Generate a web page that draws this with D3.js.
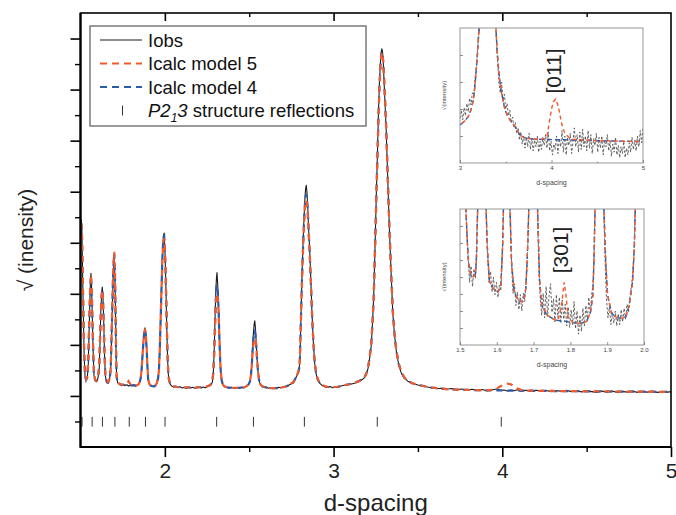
<!DOCTYPE html>
<html>
<head>
<meta charset="utf-8">
<script src="https://cdn.jsdelivr.net/npm/d3@7"></script>
<style>
  html, body { margin: 0; padding: 0; background: #fff; }
  svg { display: block; font-family: "Liberation Sans", Arial, sans-serif; }
</style>
</head>
<body>
<svg id="chart" width="676" height="515"></svg>
<script>
// ---------- main diffraction profile ----------
const dSpacing = [
  1.500,1.504,1.508,1.512,1.517,1.522,1.527,1.533,1.540,
  1.546,1.550,1.554,1.558,1.562,1.566,1.570,1.575,1.580,1.587,1.595,1.603,
  1.611,1.616,1.620,1.625,1.629,1.633,1.637,1.642,1.647,1.655,1.663,1.671,
  1.679,1.684,1.688,1.694,1.700,1.704,1.708,1.711,1.714,1.720,1.728,
  1.736,1.745,1.755,1.765,1.775,1.785,1.795,1.805,1.815,1.825,1.835,1.845,1.852,1.858,
  1.862,1.867,1.872,1.877,1.882,1.887,1.892,1.897,1.901,1.908,1.915,1.925,1.935,1.945,1.953,1.960,
  1.965,1.970,1.975,1.980,1.984,1.988,1.992,1.996,2.000,2.004,2.008,2.012,2.016,2.020,2.024,2.032,2.040,
  2.052,2.065,2.078,2.090,2.103,2.115,2.128,2.140,2.153,2.165,2.178,2.190,2.203,2.215,2.228,2.240,2.252,2.264,2.274,
  2.282,2.288,2.293,2.298,2.302,2.306,2.309,2.313,2.318,2.322,2.326,2.331,2.337,2.345,2.355,
  2.368,2.380,2.393,2.405,2.418,2.430,2.443,2.455,2.468,2.478,2.488,2.497,
  2.505,2.511,2.516,2.520,2.524,2.529,2.533,2.537,2.541,2.546,2.552,2.558,2.566,2.575,
  2.588,2.600,2.613,2.625,2.638,2.650,2.663,2.675,2.688,2.700,2.713,2.725,2.738,2.750,
  2.759,2.770,2.779,2.788,2.795,2.800,2.805,2.810,2.815,2.820,2.825,2.830,2.834,2.838,2.842,2.847,2.853,2.858,2.865,2.872,2.880,2.888,2.897,2.907,2.920,2.935,2.950,
  2.965,2.980,2.995,3.010,3.025,3.040,3.055,
  3.070,3.100,3.130,3.150,3.170,3.185,3.197,3.205,3.213,3.223,3.231,3.238,3.246,3.253,3.260,3.266,3.272,3.278,3.283,3.286,3.290,3.295,3.300,3.306,3.312,3.320,3.331,3.340,3.351,3.361,3.371,3.385,3.401,3.420,3.440,3.467,3.500,3.548,
  3.580,3.610,3.640,3.670,3.700,3.730,3.760,3.790,3.820,3.850,3.880,3.910,3.940,
  3.970,3.990,4.010,4.030,4.050,4.070,4.090,4.110,
  4.140,4.170,4.200,4.230,4.260,4.290,4.320,4.350,4.380,4.410,4.440,4.470,4.500,4.530,4.560,4.590,4.620,4.650,4.680,4.710,4.740,4.770,4.800,4.830,4.860,4.890,4.920,4.950,4.980,
  5.000
];

const iobs = [
  8.30,8.90,8.60,7.00,5.10,3.50,2.75,2.60,2.70,
  3.20,4.30,5.30,6.30,6.80,6.20,5.10,3.70,2.80,2.62,2.56,2.68,
  3.05,4.20,5.20,6.00,6.27,5.90,5.10,3.70,2.80,2.52,2.50,2.62,
  3.00,4.20,5.20,6.80,7.55,6.70,5.10,3.60,2.75,2.52,2.46,
  2.44,2.40,2.46,2.41,2.44,2.39,2.43,2.40,2.44,2.38,2.42,2.46,2.55,2.72,
  3.00,3.50,4.00,4.45,4.67,4.40,3.85,3.10,2.62,2.45,2.40,2.37,2.36,2.41,2.50,2.70,
  3.00,3.80,5.00,6.20,7.20,7.90,8.30,8.38,7.80,6.90,5.70,4.50,3.50,2.90,2.62,2.45,2.39,
  2.35,2.38,2.33,2.36,2.31,2.34,2.30,2.35,2.31,2.34,2.30,2.33,2.36,2.31,2.35,2.32,2.37,2.40,2.45,
  2.55,3.00,3.90,5.20,6.10,6.65,6.83,6.40,5.60,4.60,3.70,2.95,2.58,2.42,2.36,
  2.33,2.30,2.34,2.31,2.29,2.33,2.30,2.34,2.31,2.36,2.40,2.46,
  2.58,2.85,3.30,3.90,4.40,4.80,4.94,4.65,4.15,3.50,2.95,2.62,2.44,2.37,
  2.33,2.35,2.30,2.33,2.29,2.32,2.30,2.34,2.31,2.36,2.38,2.37,2.44,2.48,
  2.49,2.62,2.75,2.85,3.00,3.35,4.60,6.00,7.20,8.20,9.00,9.70,10.10,10.25,10.00,9.40,8.40,7.80,6.60,5.25,4.10,3.30,2.85,2.62,2.48,2.40,2.36,
  2.33,2.37,2.32,2.36,2.34,2.38,2.41,
  2.42,2.46,2.51,2.57,2.64,2.73,2.90,3.10,3.45,3.95,4.90,5.90,7.90,9.80,11.50,13.10,14.30,15.10,15.50,15.60,15.50,15.00,14.20,13.30,12.40,10.70,8.50,7.00,5.25,4.40,3.80,3.25,2.90,2.70,2.58,2.50,2.43,2.36,
  2.32,2.28,2.30,2.26,2.29,2.24,2.27,2.22,2.26,2.21,2.25,2.20,2.24,
  2.27,2.21,2.23,2.19,2.23,2.20,2.24,2.19,
  2.22,2.18,2.22,2.19,2.21,2.17,2.21,2.18,2.22,2.17,2.20,2.16,2.20,2.17,2.14,2.19,2.15,2.19,2.14,2.18,2.15,2.19,2.14,2.17,2.15,2.18,2.14,2.17,2.15,
  2.17
];

const icalcModel5 = [
  8.50,8.75,8.55,7.20,5.35,3.70,2.85,2.66,2.76,
  3.40,4.50,5.45,6.35,6.75,6.30,5.25,3.85,2.88,2.63,2.60,2.70,
  3.20,4.35,5.20,5.90,6.15,5.85,5.05,3.80,2.88,2.60,2.55,2.64,
  3.10,4.40,5.45,7.05,7.65,6.90,5.30,3.75,2.80,2.56,2.49,
  2.46,2.44,2.43,2.43,2.48,2.58,2.47,2.41,2.41,2.41,2.42,2.46,2.58,2.76,
  3.05,3.55,4.05,4.45,4.62,4.42,3.90,3.15,2.66,2.48,2.42,2.40,2.39,2.42,2.52,2.72,
  3.05,3.85,5.00,6.15,7.05,7.70,8.10,8.17,7.80,7.00,5.85,4.65,3.60,2.95,2.66,2.47,2.41,
  2.38,2.36,2.35,2.34,2.34,2.33,2.33,2.33,2.33,2.33,2.33,2.33,2.34,2.34,2.35,2.36,2.38,2.41,2.46,
  2.58,3.00,3.75,4.80,5.55,5.95,6.00,5.85,5.35,4.55,3.75,3.00,2.62,2.44,2.37,
  2.34,2.33,2.32,2.32,2.32,2.32,2.32,2.33,2.34,2.36,2.40,2.46,
  2.60,2.85,3.25,3.65,3.95,4.20,4.26,4.20,4.00,3.55,3.00,2.66,2.47,2.39,
  2.35,2.33,2.32,2.31,2.31,2.31,2.31,2.32,2.33,2.34,2.36,2.39,2.43,2.50,
  2.52,2.64,2.78,2.90,3.05,3.40,4.60,5.85,6.95,7.90,8.70,9.35,9.60,9.66,9.55,9.15,8.30,7.65,6.55,5.30,4.15,3.35,2.88,2.64,2.50,2.42,2.38,
  2.36,2.35,2.35,2.35,2.36,2.38,2.40,
  2.43,2.47,2.53,2.58,2.66,2.76,2.92,3.12,3.48,4.00,4.90,5.85,7.80,9.65,11.30,12.85,14.05,14.90,15.35,15.45,15.40,15.05,14.40,13.50,12.55,10.85,8.60,7.05,5.35,4.45,3.85,3.30,2.95,2.72,2.60,2.50,2.43,2.37,
  2.33,2.31,2.29,2.27,2.26,2.25,2.24,2.24,2.23,2.23,2.22,2.22,2.24,
  2.30,2.38,2.45,2.48,2.46,2.38,2.29,2.24,
  2.21,2.21,2.20,2.20,2.20,2.20,2.19,2.19,2.19,2.19,2.19,2.18,2.18,2.18,2.18,2.18,2.18,2.17,2.17,2.17,2.17,2.17,2.17,2.17,2.17,2.17,2.16,2.16,2.16,
  2.16
];

const icalcModel4 = [
  8.40,8.80,8.55,7.10,5.20,3.60,2.80,2.63,2.72,
  3.30,4.40,5.35,6.25,6.70,6.20,5.15,3.75,2.82,2.61,2.58,2.66,
  3.10,4.25,5.10,5.90,6.18,5.82,5.00,3.72,2.82,2.56,2.52,2.60,
  3.02,4.30,5.30,6.90,7.55,6.80,5.20,3.65,2.74,2.53,2.47,
  2.45,2.44,2.43,2.42,2.42,2.42,2.41,2.41,2.41,2.41,2.42,2.46,2.56,2.74,
  3.02,3.52,4.02,4.45,4.62,4.40,3.86,3.12,2.64,2.46,2.41,2.39,2.38,2.41,2.50,2.70,
  3.02,3.82,5.00,6.15,7.10,7.80,8.20,8.25,7.80,6.95,5.80,4.60,3.55,2.92,2.64,2.46,2.40,
  2.37,2.36,2.35,2.34,2.34,2.33,2.33,2.33,2.33,2.33,2.33,2.33,2.34,2.34,2.35,2.36,2.38,2.41,2.46,
  2.56,3.00,3.85,5.00,5.80,6.25,6.35,6.10,5.45,4.55,3.70,2.98,2.60,2.43,2.37,
  2.34,2.33,2.32,2.32,2.32,2.32,2.32,2.33,2.34,2.36,2.40,2.46,
  2.58,2.85,3.28,3.75,4.15,4.45,4.52,4.40,4.05,3.50,2.97,2.64,2.45,2.38,
  2.35,2.33,2.32,2.31,2.31,2.31,2.31,2.32,2.33,2.34,2.36,2.39,2.43,2.50,
  2.51,2.63,2.77,2.88,3.03,3.38,4.60,5.92,7.05,8.00,8.85,9.50,9.80,9.90,9.75,9.30,8.35,7.70,6.55,5.25,4.12,3.32,2.86,2.63,2.49,2.41,2.37,
  2.35,2.35,2.35,2.35,2.36,2.38,2.40,
  2.43,2.47,2.53,2.58,2.66,2.76,2.92,3.12,3.47,3.98,4.90,5.88,7.85,9.70,11.40,12.95,14.15,14.95,15.40,15.48,15.42,15.00,14.30,13.40,12.45,10.75,8.55,7.00,5.30,4.42,3.82,3.28,2.93,2.71,2.59,2.50,2.43,2.37,
  2.33,2.31,2.29,2.27,2.26,2.25,2.24,2.24,2.23,2.23,2.22,2.22,2.22,
  2.22,2.22,2.22,2.21,2.21,2.21,2.21,2.21,
  2.21,2.21,2.20,2.20,2.20,2.20,2.19,2.19,2.19,2.19,2.19,2.18,2.18,2.18,2.18,2.18,2.18,2.17,2.17,2.17,2.17,2.17,2.17,2.17,2.17,2.17,2.16,2.16,2.16,
  2.16
];

// P2_13 reflection positions (d-spacing)
const reflectionD = [1.509,1.569,1.630,1.704,1.789,1.885,2.001,2.307,2.525,2.827,3.259,3.994];

const xTickLabels = [2, 3, 4, 5];
const xMinorTicks = [2.5, 3.5, 4.5];
const yMajorTicks = [2, 4, 6, 8, 10, 12, 14, 16];
const yMinorTicks = [1, 3, 5, 7, 9, 11, 13, 15];

// ---------- inset: d = 3 .. 5, around [011] ----------
const inset011D = [3.000,3.050,3.090,3.120,3.146,3.162,3.175,3.190,3.200,3.211,3.225,3.380,3.393,3.405,3.419,3.437,3.455,3.474,3.492,3.520,3.546,3.575,3.601,3.630,3.656,3.690,3.729,3.800,3.874,3.920,3.950,3.980,4.000,4.020,4.046,4.075,4.110,4.140,4.166,4.200,4.240,4.400,4.600,4.800,5.000];
const inset011Model5 = [2.81,3.10,3.43,3.95,4.67,5.60,6.64,8.00,9.10,10.00,11.50,11.50,10.00,8.40,7.14,6.00,5.16,4.50,3.93,3.50,3.19,2.95,2.69,2.35,2.07,1.92,1.83,1.78,1.75,1.80,1.95,3.19,4.00,4.54,4.74,4.17,2.94,2.30,2.07,1.85,1.75,1.68,1.64,1.61,1.58];
const inset011Model4 = [2.81,3.10,3.43,3.95,4.67,5.60,6.64,8.00,9.10,10.00,11.50,11.50,10.00,8.40,7.14,6.00,5.16,4.50,3.93,3.50,3.19,2.95,2.69,2.35,2.07,1.92,1.83,1.78,1.75,1.74,1.74,1.74,1.73,1.73,1.73,1.72,1.72,1.72,1.71,1.71,1.70,1.68,1.64,1.61,1.58];
const inset011ObsD = [
  3.000,3.015,3.030,3.045,3.060,3.075,3.090,3.105,3.120,3.135,3.150,3.165,3.180,3.195,3.210,3.225,
  3.380,3.395,3.410,3.425,3.440,3.455,3.470,3.485,3.500,3.515,3.530,3.545,3.560,3.575,3.590,3.605,3.620,3.635,3.650,3.665,
  3.680,3.695,3.710,3.725,3.740,3.755,3.770,3.785,3.800,3.815,3.830,3.845,3.860,3.875,3.890,3.905,3.920,3.935,3.950,3.965,
  3.980,3.995,4.010,4.025,4.040,4.055,4.070,4.085,4.100,4.115,4.130,4.145,4.160,4.175,4.190,4.205,4.220,4.235,4.250,4.265,
  4.280,4.295,4.310,4.325,4.340,4.355,4.370,4.385,4.400,4.415,4.430,4.445,4.460,4.475,4.490,4.505,4.520,4.535,4.550,4.565,
  4.580,4.595,4.610,4.625,4.640,4.655,4.670,4.685,4.700,4.715,4.730,4.745,4.760,4.775,4.790,4.805,4.820,4.835,4.850,4.865,
  4.880,4.895,4.910,4.925,4.940,4.955,4.970,4.985,5.000
];
const inset011Obs = [
  3.3,3.9,3.2,4.1,3.5,4.4,3.8,4.8,4.3,5.2,5.0,6.3,7.2,8.8,10.5,12.0,
  12.0,9.5,7.6,6.0,5.2,6.0,4.6,5.1,4.0,4.4,3.5,3.9,3.0,3.4,2.6,3.0,2.2,2.6,1.7,2.3,
  1.4,2.0,1.1,1.9,1.2,2.2,1.0,1.8,0.9,1.7,1.2,2.0,0.8,1.6,1.0,1.9,1.3,2.1,1.1,2.3,
  0.9,1.6,0.6,1.4,1.0,2.0,0.7,1.8,1.2,2.4,0.8,2.0,0.6,1.9,1.3,2.2,0.7,1.6,2.6,1.2,
  2.1,0.8,2.3,1.0,2.5,1.2,2.0,0.9,2.4,1.1,2.1,0.7,1.8,1.3,2.2,0.8,1.9,1.1,2.0,0.6,
  1.7,1.2,2.1,0.9,1.6,0.5,1.4,0.8,1.9,0.6,1.3,0.4,1.2,0.7,1.6,0.4,1.1,0.6,1.5,0.8,
  1.9,1.0,1.7,0.9,2.0,1.2,2.4,1.5,2.6
];

// ---------- inset: d = 1.5 .. 2.0, around [301] ----------
const inset301D = [
  1.500,1.514,1.516,1.520,1.523,1.529,1.536,1.541,1.543,1.545,1.548,1.550,
  1.569,1.571,1.574,1.580,1.590,1.597,1.604,1.611,1.616,1.618,1.620,
  1.634,1.636,1.640,1.647,1.659,1.672,1.679,1.684,1.687,1.689,
  1.709,1.711,1.716,1.722,1.736,1.758,1.767,1.776,1.783,1.788,1.794,1.808,1.826,1.844,1.855,1.861,1.864,1.867,1.869,
  1.889,1.891,1.896,1.901,1.912,1.926,1.939,1.951,1.960,1.969,1.974,1.976,1.978,2.000
];
const inset301Model5 = [
  11.5,11.5,10.0,7.60,6.13,5.15,5.02,5.15,5.39,6.62,10.0,11.5,
  11.5,10.0,7.35,4.66,4.17,4.00,3.92,4.41,7.35,10.0,11.5,
  11.5,10.0,6.13,3.92,3.24,3.19,4.17,7.35,10.0,11.5,
  11.5,10.0,4.90,2.94,2.21,1.84,1.84,2.94,4.61,3.68,1.96,1.64,1.59,1.72,2.45,3.68,6.13,10.0,11.5,
  11.5,10.0,6.13,3.68,2.33,2.01,1.96,2.08,2.94,4.66,7.35,10.0,11.5,11.5
];
const inset301Model4 = [
  11.5,11.5,10.0,7.60,6.13,5.15,5.02,5.15,5.39,6.62,10.0,11.5,
  11.5,10.0,7.35,4.66,4.17,4.00,3.92,4.41,7.35,10.0,11.5,
  11.5,10.0,6.13,3.92,3.24,3.19,4.17,7.35,10.0,11.5,
  11.5,10.0,4.90,2.94,2.21,1.84,1.80,1.78,1.76,1.74,1.70,1.64,1.59,1.72,2.45,3.68,6.13,10.0,11.5,
  11.5,10.0,6.13,3.68,2.33,2.01,1.96,2.08,2.94,4.66,7.35,10.0,11.5,11.5
];
const inset301ObsD = [
  1.500,1.514,1.518,1.522,1.526,1.530,1.534,1.538,1.542,1.545,1.548,1.550,
  1.569,1.572,1.575,1.579,1.583,1.587,1.591,1.595,1.599,1.603,1.607,1.611,1.614,1.617,1.620,
  1.634,1.637,1.640,1.644,1.648,1.652,1.656,1.660,1.664,1.668,1.672,1.676,1.679,1.682,1.685,1.687,1.689,
  1.709,1.712,1.715,1.718,
  1.722,1.726,1.730,1.734,1.738,1.742,1.746,1.750,1.754,1.758,
  1.762,1.766,1.770,1.774,1.778,1.782,1.786,1.790,1.794,1.798,
  1.802,1.806,1.810,1.814,1.818,1.822,1.826,1.830,1.834,1.838,
  1.842,1.846,1.850,1.854,1.858,
  1.861,1.864,1.867,1.869,
  1.889,1.892,1.895,1.898,1.902,1.906,1.910,1.914,1.918,1.922,1.926,1.930,1.934,1.938,1.942,1.946,1.950,1.954,1.958,1.962,1.966,1.969,1.972,1.975,1.978,2.000
];
const inset301Obs = [
  11.5,11.5,8.5,6.5,4.6,5.8,4.3,5.6,4.9,7.2,10.5,11.5,
  11.5,8.8,6.4,4.6,5.4,3.9,5.0,3.7,4.6,3.5,4.4,4.0,6.0,9.0,11.5,
  11.5,8.5,6.0,3.8,4.5,2.9,3.9,2.6,3.7,2.5,3.8,3.2,4.6,5.6,8.0,10.5,11.5,
  11.5,8.0,5.0,3.4,
  2.2,3.8,2.0,4.3,2.1,3.6,4.5,2.4,3.4,1.7,
  3.7,2.0,3.5,1.6,3.3,1.9,3.0,1.4,2.8,1.3,
  2.6,1.5,3.2,1.2,2.5,0.8,2.2,1.0,2.7,1.4,
  2.9,1.8,3.5,2.3,3.8,
  4.3,6.5,10.5,11.5,
  11.5,8.5,5.5,3.4,2.0,2.8,1.5,2.4,1.6,2.5,1.4,2.3,1.5,2.6,1.7,2.7,1.9,3.0,2.4,3.6,4.4,5.2,6.4,8.6,11.5,11.5
];

// ---------- drawing ----------
const COLOR_OBS = "#1c1c1c";
const COLOR_M5 = "#f15a2b";
const COLOR_M4 = "#2b5ba8";

const svg = d3.select("#chart");
const plot = { left: 80.5, right: 671, top: 13, bottom: 447 };

const x = d3.scaleLinear().domain([1.5, 5]).range([plot.left, plot.right]);
const y = d3.scaleLinear().domain([0, 17]).range([plot.bottom, plot.top]);

function zip(xs, ys) {
  const n = Math.min(xs.length, ys.length);
  return d3.range(n).map(i => [xs[i], ys[i]]);
}

svg.append("clipPath").attr("id", "main-clip")
  .append("rect")
  .attr("x", plot.left).attr("y", plot.top)
  .attr("width", plot.right - plot.left).attr("height", plot.bottom - plot.top);

const mainLine = d3.line()
  .defined(p => isFinite(p[1]))
  .x(p => x(p[0])).y(p => y(p[1]));

const series = svg.append("g").attr("clip-path", "url(#main-clip)");

series.append("path")
  .datum(zip(dSpacing, iobs))
  .attr("d", mainLine)
  .attr("fill", "none").attr("stroke", COLOR_OBS).attr("stroke-width", 1.1)
  .attr("stroke-linejoin", "round");

series.append("path")
  .datum(zip(dSpacing, icalcModel4))
  .attr("d", mainLine)
  .attr("fill", "none").attr("stroke", COLOR_M4).attr("stroke-width", 2.2)
  .attr("stroke-dasharray", "6,5");

series.append("path")
  .datum(zip(dSpacing, icalcModel5))
  .attr("d", mainLine)
  .attr("fill", "none").attr("stroke", COLOR_M5).attr("stroke-width", 2.2)
  .attr("stroke-dasharray", "6,5").attr("stroke-dashoffset", 5.5);

// reflection markers
svg.append("g").selectAll("line")
  .data(reflectionD)
  .join("line")
  .attr("x1", d => x(d)).attr("x2", d => x(d))
  .attr("y1", y(0.8)).attr("y2", y(1.18))
  .attr("stroke", "#333").attr("stroke-width", 1);

// axes
function styleAxis(g, width) {
  g.select(".domain").remove();
  g.selectAll(".tick line").attr("stroke", "#000").attr("stroke-width", width);
}

svg.append("g")
  .attr("transform", `translate(0,${plot.bottom})`)
  .call(d3.axisBottom(x).tickValues(xTickLabels).tickSize(10).tickPadding(6).tickFormat(d3.format("d")))
  .call(g => styleAxis(g, 1.6))
  .call(g => g.selectAll("text").attr("font-size", 21).attr("fill", "#222")
    .attr("font-family", "'Liberation Sans', Arial, sans-serif"));

svg.append("g")
  .attr("transform", `translate(0,${plot.bottom})`)
  .call(d3.axisBottom(x).tickValues(xMinorTicks).tickSize(5).tickFormat(""))
  .call(g => styleAxis(g, 1.4));

svg.append("g")
  .attr("transform", `translate(0,${plot.top})`)
  .call(d3.axisTop(x).tickValues([2, 3, 4]).tickSize(-8).tickFormat(""))
  .call(g => styleAxis(g, 1.6));

svg.append("g")
  .attr("transform", `translate(0,${plot.top})`)
  .call(d3.axisTop(x).tickValues(xMinorTicks).tickSize(-4).tickFormat(""))
  .call(g => styleAxis(g, 1.4));

svg.append("g")
  .attr("transform", `translate(${plot.left},0)`)
  .call(d3.axisLeft(y).tickValues(yMajorTicks).tickSize(10).tickFormat(""))
  .call(g => styleAxis(g, 1.6));

svg.append("g")
  .attr("transform", `translate(${plot.left},0)`)
  .call(d3.axisLeft(y).tickValues(yMinorTicks).tickSize(5.5).tickFormat(""))
  .call(g => styleAxis(g, 1.4));

// frame
svg.append("rect")
  .attr("x", plot.left).attr("y", plot.top)
  .attr("width", plot.right - plot.left).attr("height", plot.bottom - plot.top)
  .attr("fill", "none").attr("stroke", "#000").attr("stroke-width", 1.6);
svg.append("line")
  .attr("x1", plot.left).attr("x2", plot.left).attr("y1", plot.top).attr("y2", plot.bottom + 0.8)
  .attr("stroke", "#000").attr("stroke-width", 2.2);
svg.append("line")
  .attr("x1", plot.left).attr("x2", plot.right).attr("y1", plot.bottom).attr("y2", plot.bottom)
  .attr("stroke", "#000").attr("stroke-width", 2.2);

// axis titles
svg.append("text")
  .attr("x", (plot.left + plot.right) / 2).attr("y", 511)
  .attr("text-anchor", "middle").attr("font-size", 24).attr("fill", "#222")
  .text("d-spacing");

svg.append("text")
  .attr("transform", "translate(33,240) rotate(-90)")
  .attr("text-anchor", "middle").attr("font-size", 21).attr("fill", "#222")
  .text("\u221A (inensity)");

// legend
const legend = svg.append("g");
legend.append("rect")
  .attr("x", 90).attr("y", 26).attr("width", 276).attr("height", 100)
  .attr("fill", "#fff").attr("stroke", "#7a7a7a").attr("stroke-width", 1.5);

const legendRows = [40, 63.5, 87, 110.5];
legend.append("line").attr("x1", 100).attr("x2", 142).attr("y1", legendRows[0]).attr("y2", legendRows[0])
  .attr("stroke", COLOR_OBS).attr("stroke-width", 1.1);
legend.append("line").attr("x1", 100).attr("x2", 142).attr("y1", legendRows[1]).attr("y2", legendRows[1])
  .attr("stroke", COLOR_M5).attr("stroke-width", 2.2).attr("stroke-dasharray", "7,5");
legend.append("line").attr("x1", 100).attr("x2", 142).attr("y1", legendRows[2]).attr("y2", legendRows[2])
  .attr("stroke", COLOR_M4).attr("stroke-width", 2.2).attr("stroke-dasharray", "7,5");
legend.append("line").attr("x1", 122.5).attr("x2", 122.5).attr("y1", legendRows[3] - 5).attr("y2", legendRows[3] + 5)
  .attr("stroke", "#333").attr("stroke-width", 1);

const legendText = ["Iobs", "Icalc model 5", "Icalc model 4"];
legendText.forEach((t, i) => {
  legend.append("text").attr("x", 148).attr("y", legendRows[i] + 6.5)
    .attr("font-size", 18.5).attr("fill", "#111").text(t);
});
const refl = legend.append("text").attr("x", 148).attr("y", legendRows[3] + 6.5)
  .attr("font-size", 18.5).attr("fill", "#111");
refl.append("tspan").attr("font-style", "italic").text("P2");
refl.append("tspan").attr("font-style", "italic").attr("font-size", 12).attr("dy", 5).text("1");
refl.append("tspan").attr("font-style", "italic").attr("dy", -5).text("3");
refl.append("tspan").text(" structure reflections");

// ---------- insets ----------
function drawInset(cfg) {
  const g = svg.append("g");
  const ix = d3.scaleLinear().domain(cfg.xDomain).range([cfg.left, cfg.right]);
  const iy = d3.scaleLinear().domain([0, 10]).range([cfg.bottom, cfg.top]);

  g.append("clipPath").attr("id", cfg.id)
    .append("rect")
    .attr("x", cfg.left).attr("y", cfg.top)
    .attr("width", cfg.right - cfg.left).attr("height", cfg.bottom - cfg.top);

  const ln = d3.line().x(p => ix(p[0])).y(p => iy(p[1]));
  const area = g.append("g").attr("clip-path", `url(#${cfg.id})`);

  area.append("path").datum(zip(cfg.obsD, cfg.obs)).attr("d", ln)
    .attr("fill", "none").attr("stroke", "#4a4a4a").attr("stroke-width", 0.85)
    .attr("stroke-dasharray", "2.5,1.8");
  area.append("path").datum(zip(cfg.calcD, cfg.model4)).attr("d", ln)
    .attr("fill", "none").attr("stroke", COLOR_M4).attr("stroke-width", 1.4)
    .attr("stroke-dasharray", "5,3");
  area.append("path").datum(zip(cfg.calcD, cfg.model5)).attr("d", ln)
    .attr("fill", "none").attr("stroke", COLOR_M5).attr("stroke-width", 1.4)
    .attr("stroke-dasharray", "4,3").attr("stroke-dashoffset", 4);

  g.append("rect")
    .attr("x", cfg.left).attr("y", cfg.top)
    .attr("width", cfg.right - cfg.left).attr("height", cfg.bottom - cfg.top)
    .attr("fill", "none").attr("stroke", "#8c8c8c").attr("stroke-width", 0.9);

  g.append("g").attr("transform", `translate(0,${cfg.bottom})`)
    .call(d3.axisBottom(ix).tickValues(cfg.xTicks).tickSize(-3).tickPadding(3).tickFormat(cfg.xFormat))
    .call(a => a.select(".domain").remove())
    .call(a => a.selectAll(".tick line").attr("stroke", "#777").attr("stroke-width", 0.8))
    .call(a => a.selectAll("text").attr("font-size", 6).attr("fill", "#444")
      .attr("font-family", "'Liberation Sans', Arial, sans-serif"));

  g.append("g").attr("transform", `translate(0,${cfg.bottom})`)
    .call(d3.axisBottom(ix).tickValues(cfg.xMinor).tickSize(-1.5).tickFormat(""))
    .call(a => a.select(".domain").remove())
    .call(a => a.selectAll(".tick line").attr("stroke", "#777").attr("stroke-width", 0.8));

  g.append("g").attr("transform", `translate(${cfg.left},0)`)
    .call(d3.axisLeft(iy).tickValues(cfg.yTicks).tickSize(-3).tickFormat(""))
    .call(a => a.select(".domain").remove())
    .call(a => a.selectAll(".tick line").attr("stroke", "#777").attr("stroke-width", 0.8));

  g.append("text")
    .attr("x", (cfg.left + cfg.right) / 2).attr("y", cfg.bottom + 22)
    .attr("text-anchor", "middle").attr("font-size", 7).attr("fill", "#444")
    .text("d-spacing");

  g.append("text")
    .attr("transform", `translate(${cfg.left - 14},${(cfg.top + cfg.bottom) / 2}) rotate(-90)`)
    .attr("text-anchor", "middle").attr("font-size", 6).attr("fill", "#444")
    .text("\u221A(intensity)");

  g.append("text")
    .attr("transform", `translate(${cfg.tagX},${cfg.tagY}) rotate(-90)`)
    .attr("text-anchor", "middle").attr("font-size", 21).attr("fill", "#222")
    .text(cfg.tag);
}

drawInset({
  id: "inset-011", left: 460, right: 643, top: 28, bottom: 163,
  xDomain: [3, 5], xTicks: [3, 4, 5], xMinor: [3.5, 4.5], xFormat: d3.format("d"),
  yTicks: [2, 4, 6, 8],
  calcD: inset011D, model5: inset011Model5, model4: inset011Model4,
  obsD: inset011ObsD, obs: inset011Obs,
  tag: "[011]", tagX: 561, tagY: 71
});

drawInset({
  id: "inset-301", left: 460, right: 644, top: 209, bottom: 345,
  xDomain: [1.5, 2.0], xTicks: [1.5, 1.6, 1.7, 1.8, 1.9, 2.0], xMinor: [], xFormat: d3.format(".1f"),
  yTicks: [1.25, 2.5, 3.75, 5, 6.25, 7.5, 8.75],
  calcD: inset301D, model5: inset301Model5, model4: inset301Model4,
  obsD: inset301ObsD, obs: inset301Obs,
  tag: "[301]", tagX: 568, tagY: 250
});
</script>
</body>
</html>
